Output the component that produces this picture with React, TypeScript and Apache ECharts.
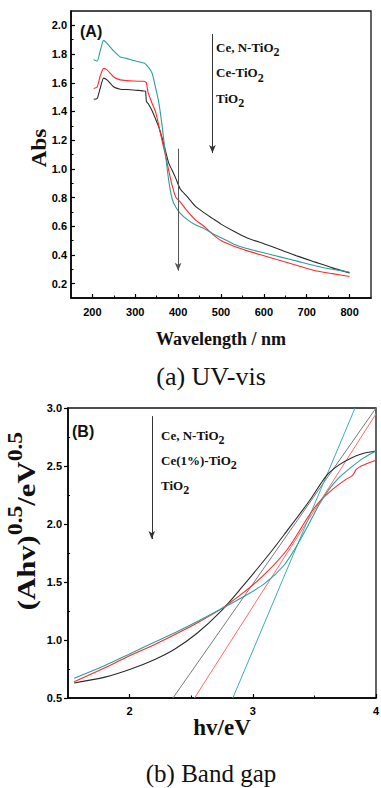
import React, { useEffect, useRef } from "react";
import * as echarts from "echarts";

// ---------- (A) UV-vis data ----------
const wavelengths = [203, 211, 218, 226, 234, 250, 265, 280, 296, 310, 320, 324, 326, 330, 335, 340, 347, 355, 363, 370, 378, 386, 395, 405, 420, 440, 460, 480, 500, 530, 560, 600, 640, 680, 720, 760, 800];
const absCeNTiO2 = [1.76, 1.75, 1.82, 1.895, 1.875, 1.82, 1.78, 1.77, 1.755, 1.745, 1.737, 1.73, 1.725, 1.71, 1.69, 1.66, 1.57, 1.46, 1.29, 1.11, 0.92, 0.79, 0.73, 0.69, 0.65, 0.61, 0.585, 0.55, 0.52, 0.475, 0.445, 0.415, 0.385, 0.355, 0.325, 0.30, 0.28];
const absCeTiO2 = [1.56, 1.57, 1.645, 1.70, 1.69, 1.64, 1.62, 1.615, 1.612, 1.61, 1.61, 1.605, 1.60, 1.53, 1.49, 1.45, 1.40, 1.30, 1.19, 1.10, 0.99, 0.885, 0.80, 0.77, 0.71, 0.645, 0.60, 0.545, 0.50, 0.46, 0.43, 0.395, 0.36, 0.325, 0.29, 0.27, 0.25];
const absTiO2 = [1.485, 1.49, 1.56, 1.632, 1.62, 1.57, 1.555, 1.553, 1.55, 1.546, 1.543, 1.54, 1.47, 1.455, 1.43, 1.40, 1.35, 1.29, 1.21, 1.13, 1.04, 0.99, 0.93, 0.86, 0.81, 0.74, 0.695, 0.655, 0.615, 0.565, 0.52, 0.478, 0.435, 0.39, 0.35, 0.31, 0.275];

const uvXTicks = [200, 300, 400, 500, 600, 700, 800];
const uvXMinor = [250, 350, 450, 550, 650, 750];
const uvYTicks = [0.2, 0.4, 0.6, 0.8, 1.0, 1.2, 1.4, 1.6, 1.8, 2.0];
const uvYMinor = [0.3, 0.5, 0.7, 0.9, 1.1, 1.3, 1.5, 1.7, 1.9];
const uvArrowDown1 = [[480, 1.94], [480, 1.11]];
const uvArrowDown2 = [[400, 1.14], [400, 0.29]];
const uvLegend = [["Ce, N-TiO", "2"], ["Ce-TiO", "2"], ["TiO", "2"]];

// ---------- (B) Band gap data ----------
const bgCeNTiO2: [number, number][] = [[1.55, 0.67], [1.8, 0.78], [2.0, 0.88], [2.2, 0.98], [2.4, 1.08], [2.57, 1.17], [2.73, 1.26], [2.92, 1.37], [3.1, 1.49], [3.25, 1.64], [3.35, 1.8], [3.45, 1.99], [3.54, 2.17], [3.62, 2.3], [3.7, 2.4], [3.8, 2.49], [3.9, 2.57], [4.0, 2.63]];
const bgCeTiO2: [number, number][] = [[1.55, 0.64], [1.8, 0.76], [2.0, 0.865], [2.2, 0.96], [2.4, 1.065], [2.57, 1.16], [2.73, 1.26], [2.89, 1.38], [3.08, 1.55], [3.28, 1.78], [3.46, 2.08], [3.54, 2.19], [3.65, 2.3], [3.75, 2.38], [3.81, 2.42], [3.84, 2.47], [3.88, 2.5], [4.0, 2.55]];
const bgTiO2: [number, number][] = [[1.55, 0.63], [1.8, 0.68], [2.0, 0.745], [2.2, 0.83], [2.365, 0.92], [2.55, 1.06], [2.73, 1.235], [2.9, 1.44], [3.14, 1.75], [3.27, 1.93], [3.46, 2.2], [3.6, 2.42], [3.7, 2.51], [3.8, 2.57], [3.9, 2.61], [4.0, 2.63]];
const fitCeNTiO2: [number, number][] = [[2.838, 0.5], [3.83, 3.0]];
const fitCeTiO2: [number, number][] = [[2.527, 0.5], [4.0, 2.95]];
const fitTiO2: [number, number][] = [[2.352, 0.5], [4.0, 3.0]];

const bgXTicks = [2, 3, 4];
const bgXMinor = [2.5, 3.5];
const bgYTicks = [0.5, 1.0, 1.5, 2.0, 2.5, 3.0];
const bgYMinor = [0.75, 1.25, 1.75, 2.25, 2.75];
const bgArrowDown = [[2.18, 2.93], [2.18, 1.87]];
const bgLegend = [["Ce, N-TiO", "2"], ["Ce(1%)-TiO", "2"], ["TiO", "2"]];

const SERIF = '"Liberation Serif", "Times New Roman", serif';
const SANS = '"Liberation Sans", Arial, sans-serif';

const TEAL = "#2a9f9f";
const RED = "#ff2a2a";
const BLACK = "#2a2a2a";

function mainAxis(gridIndex: number, position: string, min: number, max: number, ticks: number[], inside: boolean, fmt: (v: number) => string, margin: number) {
  return {
    type: "value",
    gridIndex,
    position,
    min,
    max,
    axisLine: { show: true, onZero: false, lineStyle: { color: "#000", width: 1.6 } },
    axisTick: { show: true, inside, length: 4, customValues: ticks, lineStyle: { color: "#000", width: 1.2 } },
    axisLabel: { show: true, customValues: ticks, formatter: fmt, margin, color: "#000", fontFamily: SANS, fontWeight: "bold", fontSize: 11 },
    splitLine: { show: false },
  };
}

function minorAxis(gridIndex: number, position: string, min: number, max: number, ticks: number[], inside: boolean, len: number) {
  return {
    type: "value",
    gridIndex,
    position,
    min,
    max,
    axisLine: { show: false, onZero: false },
    axisTick: { show: true, inside, length: len, customValues: ticks, lineStyle: { color: "#000", width: 1 } },
    axisLabel: { show: false },
    splitLine: { show: false },
  };
}

function legendText(x: number, y: number, parts: string[]) {
  return {
    type: "text",
    x,
    y,
    z: 100,
    style: {
      text: `{m|${parts[0]}}{s|${parts[1]}}`,
      align: "left",
      verticalAlign: "middle",
      textAlign: "left",
      textVerticalAlign: "middle",
      rich: {
        m: { fontFamily: SERIF, fontWeight: "bold", fontSize: 13, fill: "#111", lineHeight: 22 },
        s: { fontFamily: SERIF, fontWeight: "bold", fontSize: 12, fill: "#111", lineHeight: 14, verticalAlign: "bottom" },
      },
    },
  };
}

function plainText(x: number, y: number, text: string, font: string, extra: any = {}) {
  return {
    type: "text",
    x,
    y,
    z: 100,
    ...extra,
    style: { text, font, fill: "#111", align: "center", verticalAlign: "middle", textAlign: "center", textVerticalAlign: "middle" },
  };
}

const fx = (v: number) => v.toFixed(1);
const fi = (v: number) => String(Math.round(v));

const arrowLine = (data: number[][][], color: string) => ({
  silent: true,
  symbol: ["none", "arrow"],
  symbolSize: [5, 8],
  lineStyle: { color, width: 1, type: "solid" },
  label: { show: false },
  emphasis: { disabled: true },
  data: data.map((seg) => [{ coord: seg[0] }, { coord: seg[1] }]),
});

export default function App() {
  const ref = useRef<HTMLDivElement>(null);
  useEffect(() => {
    if (!ref.current) return;
    const chart = echarts.init(ref.current, null, { renderer: "svg" });
    const uvSeries = (vals: number[], color: string, extra: any = {}) => ({
      type: "line",
      xAxisIndex: 0,
      yAxisIndex: 0,
      data: wavelengths.map((w, i) => [w, vals[i]]),
      showSymbol: false,
      smooth: 0.2,
      silent: true,
      lineStyle: { color, width: 1.1 },
      ...extra,
    });
    const bgSeries = (data: [number, number][], color: string, smooth: number | boolean, width = 1.1) => ({
      type: "line",
      xAxisIndex: 2,
      yAxisIndex: 2,
      data,
      showSymbol: false,
      smooth,
      silent: true,
      lineStyle: { color, width },
    });
    const option: any = {
      animation: false,
      backgroundColor: "#fff",
      grid: [
        { left: 71, top: 11, width: 300, height: 287, show: true, borderColor: "#111", borderWidth: 1.3, backgroundColor: "transparent", containLabel: false, outerBoundsMode: "none" },
        { left: 68, top: 408, width: 308, height: 290, show: true, borderColor: "#111", borderWidth: 1.3, backgroundColor: "transparent", containLabel: false, outerBoundsMode: "none" },
      ],
      xAxis: [
        mainAxis(0, "bottom", 150, 850, uvXTicks, true, fi, 8),
        minorAxis(0, "bottom", 150, 850, uvXMinor, true, 2.5),
        mainAxis(1, "bottom", 1.5, 4.0, bgXTicks, true, fi, 7),
        minorAxis(1, "bottom", 1.5, 4.0, bgXMinor, true, 2.5),
      ],
      yAxis: [
        mainAxis(0, "left", 0.1, 2.1, uvYTicks, true, fx, 4),
        minorAxis(0, "left", 0.1, 2.1, uvYMinor, true, 2.5),
        mainAxis(1, "left", 0.5, 3.0, bgYTicks, false, fx, 6),
        minorAxis(1, "left", 0.5, 3.0, bgYMinor, true, 2),
      ],
      series: [
        uvSeries(absTiO2, BLACK),
        uvSeries(absCeTiO2, RED),
        uvSeries(absCeNTiO2, TEAL, {
          markLine: {
            ...arrowLine([uvArrowDown1], "#333"),
          },
        }),
        {
          type: "line",
          xAxisIndex: 0,
          yAxisIndex: 0,
          data: [],
          markLine: arrowLine([uvArrowDown2], "#555"),
        },
        bgSeries(fitTiO2, "#7a7a7a", false, 1),
        bgSeries(fitCeTiO2, "#ff6a6a", false, 1),
        bgSeries(fitCeNTiO2, "#3aafaf", false, 1),
        bgSeries(bgTiO2, BLACK, 0.3),
        bgSeries(bgCeTiO2, RED, 0.3),
        {
          ...bgSeries(bgCeNTiO2, TEAL, 0.3),
          markLine: arrowLine([bgArrowDown], "#333"),
        },
      ],
      graphic: [
        { type: "text", x: 80, y: 31, z: 100, style: { text: "(A)", font: `bold 16px ${SANS}`, fill: "#111", align: "left", verticalAlign: "middle", textAlign: "left", textVerticalAlign: "middle" } },
        ...uvLegend.map((p, i) => legendText(216, 47 + i * 25.5, p)),
        plainText(40, 148, "Abs", `bold 20px ${SERIF}`, { rotation: Math.PI / 2, scaleX: 1.15 }),
        plainText(221, 339, "Wavelength / nm", `bold 18px ${SERIF}`),
        plainText(211, 376, "(a) UV-vis", `26px ${SERIF}`),
        { type: "text", x: 72, y: 431, z: 100, style: { text: "(B)", font: `bold 16px ${SANS}`, fill: "#111", align: "left", verticalAlign: "middle", textAlign: "left", textVerticalAlign: "middle" } },
        ...bgLegend.map((p, i) => legendText(161, 435 + i * 25, p)),
        {
          type: "text",
          x: 26,
          y: 521,
          z: 100,
          rotation: Math.PI / 2,
          scaleX: 1.18,
          style: {
            text: "{m|(Ahv)}{s|0.5}{m|/eV}{s|0.5}",
            align: "center",
            verticalAlign: "middle",
            textAlign: "center",
            textVerticalAlign: "middle",
            rich: {
              m: { fontFamily: SERIF, fontWeight: "bold", fontSize: 26, fill: "#111", lineHeight: 40 },
              s: { fontFamily: SERIF, fontWeight: "bold", fontSize: 20, fill: "#111", lineHeight: 14, verticalAlign: "top" },
            },
          },
        },
        plainText(222, 727, "hv/eV", `bold 23px ${SERIF}`),
        plainText(211, 773, "(b) Band gap", `25px ${SERIF}`),
      ],
    };
    chart.setOption(option);
    return () => chart.dispose();
  }, []);
  return <div ref={ref} style={{ position: "fixed", left: 0, top: 0, width: 381, height: 788, background: "#fff" }} />;
}
